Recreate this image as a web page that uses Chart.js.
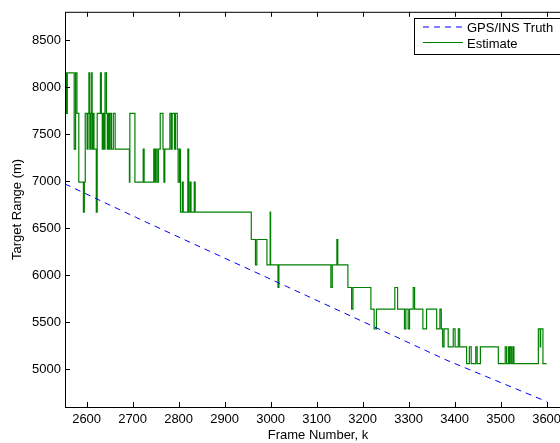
<!DOCTYPE html>
<html>
<head>
<meta charset="utf-8">
<script src="https://cdn.jsdelivr.net/npm/chart.js@4.4.1/dist/chart.umd.min.js"></script>
<style>
  html, body { margin: 0; padding: 0; background: #fff; overflow: hidden; }
  canvas { display: block; }
</style>
</head>
<body>
<canvas id="range-chart" width="575" height="443"></canvas>
<script>
// valores (frame, alcance em metros)
const xTicks = [2600, 2700, 2800, 2900, 3000, 3100, 3200, 3300, 3400, 3500, 3600];
const yTicks = [5000, 5500, 6000, 6500, 7000, 7500, 8000, 8500];

const truthFrames = [2553, 2731, 3035, 3383, 3600];
const truthRange  = [6970, 6561, 5880, 5097, 4658];

const estFrames = [
  2553, 2554, 2555, 2556, 2557, 2558, 2573, 2576, 2579, 2583, 2593, 2595, 2597, 2601, 2603,
  2605, 2607, 2609, 2611, 2612, 2614, 2616, 2621, 2623, 2630, 2632, 2634, 2636, 2638, 2640,
  2643, 2645, 2647, 2649, 2651, 2654, 2658, 2662, 2693, 2694, 2705, 2723, 2725, 2746, 2748,
  2750, 2753, 2756, 2760, 2766, 2768, 2770, 2781, 2784, 2786, 2791, 2793, 2797, 2799, 2802,
  2804, 2808, 2810, 2820, 2822, 2825, 2827, 2834, 2836, 2958, 2967, 2970, 2992, 2999, 3000,
  3016, 3018, 3131, 3134, 3144, 3146, 3168, 3176, 3179, 3218, 3225, 3230, 3270, 3276, 3291,
  3294, 3299, 3302, 3310, 3313, 3331, 3339, 3361, 3368, 3371, 3374, 3377, 3386, 3397, 3401,
  3408, 3411, 3426, 3432, 3436, 3446, 3449, 3456, 3495, 3510, 3513, 3517, 3519, 3521, 3524,
  3527, 3529, 3582, 3586, 3587, 3592, 3600
];
const estRange = [
  7720, 8150, 7720, 8150, 7720, 8150, 7340, 8150, 7720, 6990, 6670, 6990, 7720, 7340, 7720,
  8150, 7340, 7720, 8150, 7340, 7720, 7340, 6670, 7720, 8150, 7720, 7340, 7720, 7340, 8150,
  7720, 7340, 7720, 7340, 7720, 7340, 7720, 7340, 6990, 7720, 6990, 7340, 6990, 7340, 6990,
  7340, 6990, 7340, 7720, 7340, 6990, 7340, 7720, 7340, 7720, 7340, 7720, 7340, 6990, 7340,
  6670, 6990, 6670, 7340, 6670, 6990, 6670, 6990, 6670, 6380, 6110, 6380, 6110, 6670, 6110,
  5870, 6110, 5870, 6110, 6380, 6110, 5870, 5640, 5870, 5640, 5430, 5640, 5870, 5640, 5430,
  5640, 5430, 5640, 5870, 5640, 5430, 5640, 5430, 5640, 5430, 5240, 5430, 5240, 5430, 5240,
  5430, 5240, 5060, 5240, 5060, 5240, 5060, 5240, 5060, 5240, 5060, 5240, 5060, 5240, 5060,
  5240, 5060, 5430, 5240, 5430, 5060, 5060
];

const FONT = "'Liberation Sans', Arial, Helvetica, sans-serif";
const truthColor = 'rgb(0, 0, 255)';
const estColor = 'rgb(0, 128, 0)';

// moldura estilo matlab + ticks para dentro + legenda
const frame = {
  id: 'frame',
  afterDatasetsDraw(chart) {
    const { ctx, chartArea: a, scales: { x, y } } = chart;
    ctx.save();
    ctx.strokeStyle = '#000';
    ctx.lineWidth = 1;
    ctx.strokeRect(a.left + 0.5, a.top + 0.5, a.right - a.left, a.bottom - a.top);
    ctx.beginPath();
    xTicks.forEach(v => {
      const px = Math.round(x.getPixelForValue(v)) + 0.5;
      ctx.moveTo(px, a.bottom); ctx.lineTo(px, a.bottom - 5);
      ctx.moveTo(px, a.top); ctx.lineTo(px, a.top + 5);
    });
    yTicks.forEach(v => {
      const py = Math.round(y.getPixelForValue(v)) + 0.5;
      ctx.moveTo(a.left, py); ctx.lineTo(a.left + 5, py);
      ctx.moveTo(a.right, py); ctx.lineTo(a.right - 5, py);
    });
    ctx.stroke();

    // legenda
    const lx = 414.5, ly = 18.5;
    ctx.fillStyle = '#fff';
    ctx.fillRect(lx, ly, 200, 36);
    ctx.strokeRect(lx, ly, 200, 36);
    const rows = [27, 42.5];
    chart.data.datasets.forEach((ds, i) => {
      ctx.beginPath();
      ctx.strokeStyle = ds.borderColor;
      ctx.lineWidth = 1;
      ctx.setLineDash(ds.borderDash || []);
      ctx.moveTo(423, rows[i]);
      ctx.lineTo(463, rows[i]);
      ctx.stroke();
      ctx.setLineDash([]);
      ctx.fillStyle = '#000';
      ctx.font = '13px ' + FONT;
      ctx.textBaseline = 'middle';
      ctx.fillText(ds.label, 467, rows[i] + 1.5);
    });
    ctx.restore();
  }
};

new Chart(document.getElementById('range-chart'), {
  type: 'line',
  data: {
    datasets: [
      {
        label: 'GPS/INS Truth',
        data: truthFrames.map((f, i) => ({ x: f, y: truthRange[i] })),
        borderColor: truthColor,
        borderWidth: 1,
        borderDash: [6, 5],
        pointRadius: 0,
        fill: false
      },
      {
        label: 'Estimate',
        data: estFrames.map((f, i) => ({ x: f, y: estRange[i] })),
        borderColor: estColor,
        borderWidth: 1.2,
        stepped: true,
        pointRadius: 0,
        fill: false
      }
    ]
  },
  options: {
    responsive: false,
    animation: false,
    events: [],
    layout: { padding: { top: 10, right: 4, left: 0, bottom: 0 } },
    plugins: { legend: { display: false }, tooltip: { enabled: false } },
    scales: {
      x: {
        type: 'linear',
        min: 2553,
        max: 3653,
        afterBuildTicks: s => { s.ticks = xTicks.map(v => ({ value: v })); },
        afterFit: s => { s.height = 36; },
        grid: { display: false, drawTicks: false, tickLength: 0 },
        border: { display: false },
        ticks: {
          color: '#000',
          font: { family: FONT, size: 13 },
          padding: 5,
          maxRotation: 0,
          callback: v => String(v)
        },
        title: {
          display: true,
          text: 'Frame Number, k',
          color: '#000',
          font: { family: FONT, size: 13, lineHeight: 1.2 },
          padding: { top: 0, bottom: 0 }
        }
      },
      y: {
        type: 'linear',
        min: 4600,
        max: 8800,
        afterBuildTicks: s => { s.ticks = yTicks.map(v => ({ value: v })); },
        afterFit: s => { s.width = 65; },
        grid: { display: false, drawTicks: false, tickLength: 0 },
        border: { display: false },
        ticks: {
          color: '#000',
          font: { family: FONT, size: 13 },
          padding: 4,
          callback: v => String(v)
        },
        title: {
          display: true,
          text: 'Target Range (m)',
          color: '#000',
          font: { family: FONT, size: 13, lineHeight: 1.2 },
          padding: { top: 10, bottom: 0 }
        }
      }
    }
  },
  plugins: [frame]
});
</script>
</body>
</html>
